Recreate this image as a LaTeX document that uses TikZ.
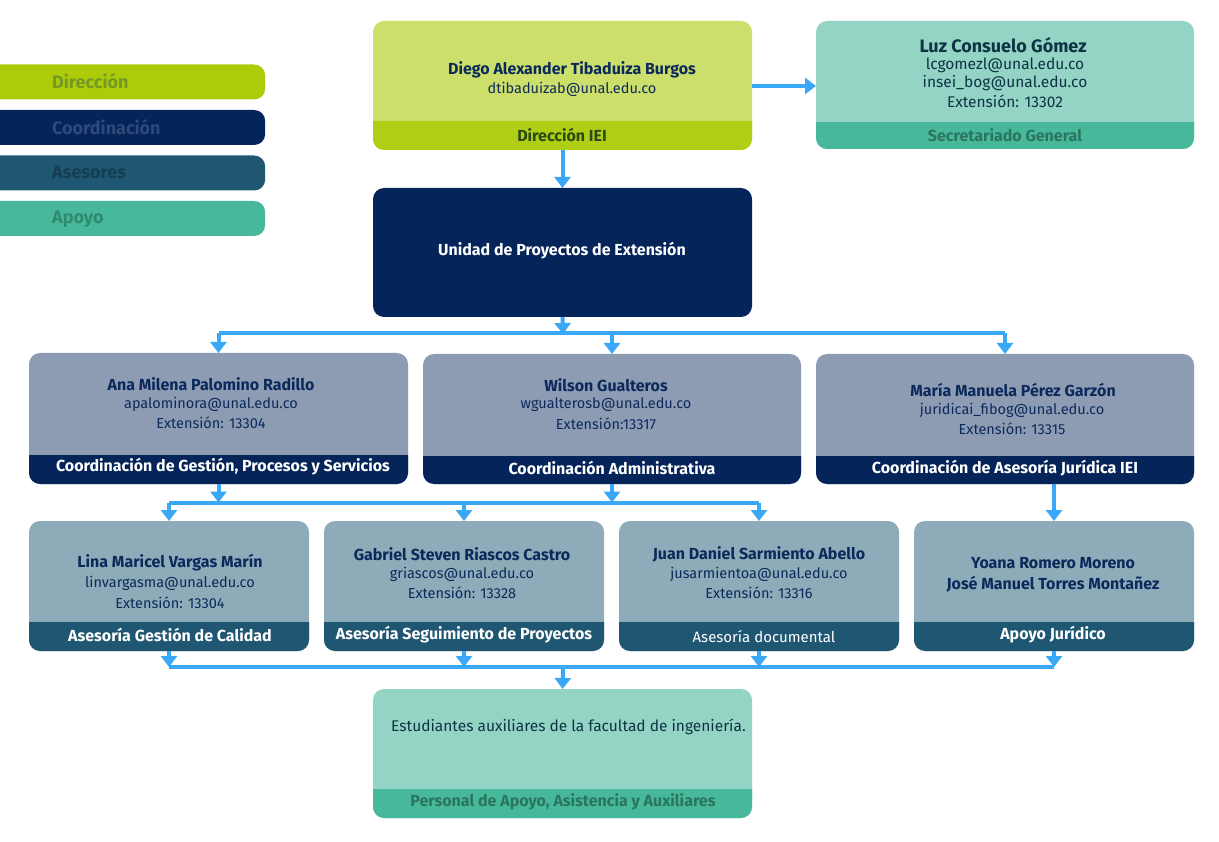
\documentclass[tikz,border=0pt]{standalone}
\usepackage{fontspec}
\setmainfont{Fira Sans}
\usetikzlibrary{arrows.meta}
\definecolor{arrowblue}{HTML}{3AA8F6}
\definecolor{lime}{HTML}{AECB0A}
\definecolor{limelight}{HTML}{CDDF6B}
\definecolor{limeband}{HTML}{B0CE16}
\definecolor{navy}{HTML}{052459}
\definecolor{navytext}{HTML}{0B2A5B}
\definecolor{asesor}{HTML}{1F5772}
\definecolor{apoyo}{HTML}{47B99A}
\definecolor{apoyolight}{HTML}{93D4C4}
\definecolor{coordlight}{HTML}{8E9CB3}
\definecolor{aselight}{HTML}{8DABB8}
\definecolor{legdir}{HTML}{739A22}
\definecolor{legcoord}{HTML}{2E4A7A}
\definecolor{legase}{HTML}{143F52}
\definecolor{legapo}{HTML}{2E8B70}
\definecolor{dirband}{HTML}{2B4A12}
\definecolor{darktext}{HTML}{0E3345}
\definecolor{apoband}{HTML}{2A7560}
\newcommand{\orgbox}[8]{%
  \node[obox, fill=#7, minimum width={#4-#2}, minimum height={#5-#3}] (#1) at ({(#2+#4)/2},{(#3+#5)/2}) {};
  \begin{scope}
    \clip[rounded corners=11pt] (#1.south west) rectangle (#1.north east);
    \fill[#8] (#2-2,#6) rectangle (#4+2,#5+2);
  \end{scope}}
\tikzset{
  obox/.style={rectangle, rounded corners=11pt, inner sep=0pt, outer sep=0pt, draw=none},
  legbar/.style={rectangle, rounded corners=11pt, inner sep=0pt, minimum width=280, minimum height=35, anchor=west},
  legtxt/.style={anchor=west, font=\fontsize{18}{20}\selectfont\bfseries, inner sep=0pt},
  nm/.style={font=\fontsize{16}{18}\selectfont\bfseries, text=navytext, inner sep=0pt},
  em/.style={font=\fontsize{14.5}{16}\selectfont, text=navytext, inner sep=0pt},
  bandw/.style={font=\fontsize{16}{18}\selectfont\bfseries, text=white, inner sep=0pt},
  line/.style={draw=arrowblue, line width=4pt},
  arr/.style={line, -{Triangle[width=16pt,length=11pt]}},
}
\begin{document}
\begin{tikzpicture}[x=1pt,y=-1pt]
\useasboundingbox[fill=white] (0,0) rectangle (1219,842);
% legend
\node[legbar, fill=lime] (lg1) at (-15,82) {};
\node[legbar, fill=navy] (lg2) at (-15,127.5) {};
\node[legbar, fill=asesor] (lg3) at (-15,173) {};
\node[legbar, fill=apoyo] (lg4) at (-15,218.5) {};
\node[legtxt, text=legdir] (lt1) at (52,81) {Dirección};
\node[legtxt, text=legcoord] (lt2) at (52,127) {Coordinación};
\node[legtxt, text=legase] (lt3) at (52,172.5) {Asesores};
\node[legtxt, text=legapo] (lt4) at (52,219) {Apoyo};
% top
\orgbox{diego}{373}{21}{752}{150}{121}{limelight}{limeband}
\node[nm] (t1) at (572,70) {Diego Alexander Tibaduiza Burgos};
\node[em] (t2) at (572,89) {dtibaduizab@unal.edu.co};
\node[nm, text=dirband] (t3) at (562,134.5) {Dirección IEI};
\orgbox{luz}{816}{21}{1194}{149}{122}{apoyolight}{apoyo}
\node[nm, font=\fontsize{18}{20}\selectfont\bfseries, text=darktext] (t4) at (1003,45) {Luz Consuelo Gómez};
\node[em, font=\fontsize{15.5}{17}\selectfont, text=darktext] (t5) at (1005,65) {lcgomezl@unal.edu.co};
\node[em, font=\fontsize{15.5}{17}\selectfont, text=darktext] (t6) at (1005,83) {insei\_bog@unal.edu.co};
\node[em, font=\fontsize{15.5}{17}\selectfont, text=darktext] (t7) at (1005,101) {Extensión: 13302};
\node[nm, text=apoband] (t8) at (1005,135) {Secretariado General};
% unidad
\node[obox, fill=navy, minimum width=379, minimum height=129] (unidad) at (562.5,252.5) {};
\node[bandw] (t9) at (562,251) {Unidad de Proyectos de Extensión};
% coordinations
\orgbox{c1}{29}{353}{408}{484}{455}{coordlight}{navy}
\node[nm] (t10) at (211,384) {Ana Milena Palomino Radillo};
\node[em] (t11) at (211,404) {apalominora@unal.edu.co};
\node[em] (t12) at (211,423) {Extensión: 13304};
\node[bandw] (t13) at (223,467) {Coordinación de Gestión, Procesos y Servicios};
\orgbox{c2}{423}{354}{801}{484}{456}{coordlight}{navy}
\node[nm] (t14) at (606,385) {Wilson Gualteros};
\node[em] (t15) at (606,405) {wgualterosb@unal.edu.co};
\node[em] (t16) at (606,424) {Extensión:13317};
\node[bandw] (t17) at (612,468) {Coordinación Administrativa};
\orgbox{c3}{816}{354}{1194}{484}{456}{coordlight}{navy}
\node[nm] (t18) at (1013,390) {María Manuela Pérez Garzón};
\node[em] (t19) at (1012,410) {juridicai\_fibog@unal.edu.co};
\node[em] (t20) at (1012,429) {Extensión: 13315};
\node[bandw] (t21) at (1005,468) {Coordinación de Asesoría Jurídica IEI};
% asesores
\orgbox{a1}{29}{521}{309}{651}{622}{aselight}{asesor}
\node[nm] (t22) at (170,563) {Lina Maricel Vargas Marín};
\node[em] (t23) at (170,583) {linvargasma@unal.edu.co};
\node[em] (t24) at (170,603) {Extensión: 13304};
\node[bandw] (t25) at (170,635) {Asesoría Gestión de Calidad};
\orgbox{a2}{324}{521}{604}{651}{622}{aselight}{asesor}
\node[nm] (t26) at (462,554) {Gabriel Steven Riascos Castro};
\node[em] (t27) at (462,574) {griascos@unal.edu.co};
\node[em] (t28) at (462,593) {Extensión: 13328};
\node[bandw] (t29) at (464,635) {Asesoría Seguimiento de Proyectos};
\orgbox{a3}{619}{521}{899}{651}{622}{aselight}{asesor}
\node[nm] (t30) at (759,554) {Juan Daniel Sarmiento Abello};
\node[em] (t31) at (759,574) {jusarmientoa@unal.edu.co};
\node[em] (t32) at (759,593) {Extensión: 13316};
\node[bandw, font=\fontsize{15}{17}\selectfont\mdseries] (t33) at (764,637) {Asesoría documental};
\orgbox{a4}{914}{521}{1194}{651}{622}{aselight}{asesor}
\node[nm] (t34) at (1053,563) {Yoana Romero Moreno};
\node[nm] (t35) at (1053,584) {José Manuel Torres Montañez};
\node[bandw] (t36) at (1053,635) {Apoyo Jurídico};
% bottom
\orgbox{pers}{373}{689}{752}{818}{789}{apoyolight}{apoyo}
\node[em, font=\fontsize{15.5}{17}\selectfont, text=darktext, anchor=west] (t37) at (391,727) {Estudiantes auxiliares de la facultad de ingeniería.};
\node[nm, text=apoband] (t38) at (563,802) {Personal de Apoyo, Asistencia y Auxiliares};
% connectors
\coordinate (j1) at (563,333);
\coordinate (j2) at (563,502.5);
\coordinate (j3) at (563,667);
\draw[arr] (diego.east |- 0,86) -- (luz.west |- 0,86);
\draw[arr] (diego.south) -- (unidad.north);
\draw[line] (c1.north |- j1) -- (c3.north |- j1);
\draw[arr, shorten >=-1pt] (unidad.south) -- (j1);
\draw[arr] (c1.north |- j1) -- (c1.north);
\draw[arr] (c2.north |- j1) -- (c2.north);
\draw[arr] (c3.north |- j1) -- (c3.north);
\draw[line] (a1.north |- j2) -- (a3.north |- j2);
\draw[arr] (c1.south) -- (c1.south |- j2);
\draw[arr] (c2.south) -- (c2.south |- j2);
\draw[arr] (a1.north |- j2) -- (a1.north);
\draw[arr] (a2.north |- j2) -- (a2.north);
\draw[arr] (a3.north |- j2) -- (a3.north);
\draw[arr] (a4.north |- c3.south) -- (a4.north);
\draw[line] (a1.south |- j3) -- (a4.south |- j3);
\draw[arr] (a1.south) -- (a1.south |- j3);
\draw[arr] (a2.south) -- (a2.south |- j3);
\draw[arr] (a3.south) -- (a3.south |- j3);
\draw[arr] (a4.south) -- (a4.south |- j3);
\draw[arr] (j3) -- (pers.north);
\end{tikzpicture}
\end{document}
